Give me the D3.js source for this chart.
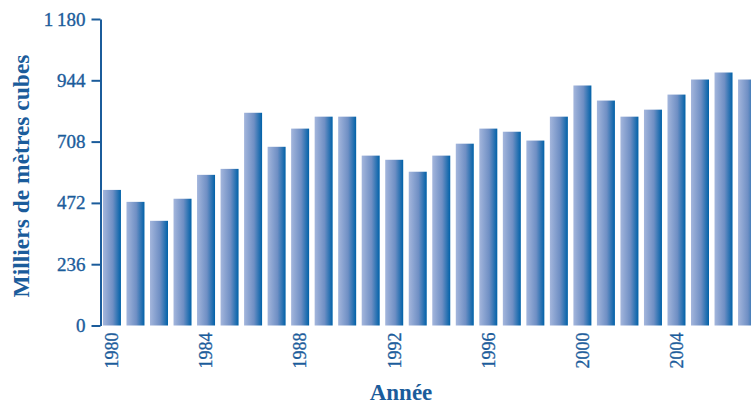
<!DOCTYPE html>
<html>
<head>
<meta charset="utf-8">
<script src="https://cdn.jsdelivr.net/npm/d3@7"></script>
<style>
  html, body { margin: 0; padding: 0; background: #fff; }
  svg { display: block; }
</style>
</head>
<body>
<svg id="chart" width="751" height="405"></svg>
<script>
// Annual volumes, thousands of cubic metres
const years = [1980, 1981, 1982, 1983, 1984, 1985, 1986, 1987, 1988, 1989,
               1990, 1991, 1992, 1993, 1994, 1995, 1996, 1997, 1998, 1999,
               2000, 2001, 2002, 2003, 2004, 2005, 2006, 2007];
const volumes = [522, 476, 403, 488, 580, 603, 819, 688, 758, 804,
                 804, 654, 638, 592, 654, 700, 758, 746, 712, 804,
                 924, 866, 804, 831, 889, 947, 974, 947];
const yTicks = [0, 236, 472, 708, 944, 1180];
const xTickYears = [1980, 1984, 1988, 1992, 1996, 2000, 2004];

const ink = "#1b5c9b";
const font = "'Liberation Serif', 'DejaVu Serif', serif";

const svg = d3.select("#chart");

// Horizontal gradient used on every bar
const grad = svg.append("defs").append("linearGradient")
  .attr("id", "barGrad").attr("x1", "0%").attr("x2", "100%")
  .attr("y1", "0%").attr("y2", "0%");
grad.append("stop").attr("offset", "0%").attr("stop-color", "#a4b6dc");
grad.append("stop").attr("offset", "55%").attr("stop-color", "#6f8fc4");
grad.append("stop").attr("offset", "100%").attr("stop-color", "#0061a8");

const x = d3.scaleBand()
  .domain(years)
  .range([100.6, 758.4])
  .paddingInner(0.235)
  .paddingOuter(0.1);

const y = d3.scaleLinear()
  .domain([0, 1180])
  .range([325.5, 19]);

// Bars
svg.append("g").selectAll("rect")
  .data(years)
  .join("rect")
  .attr("x", (d) => x(d))
  .attr("width", x.bandwidth())
  .attr("y", (d, i) => y(volumes[i]))
  .attr("height", (d, i) => y(0) - y(volumes[i]))
  .attr("fill", "url(#barGrad)");

// Y axis
const fmt = (v) => v >= 1000 ? d3.format(",")(v).replace(",", "\u2009") : String(v);
const yAxis = svg.append("g")
  .attr("transform", "translate(100.5,0)")
  .call(d3.axisLeft(y).tickValues(yTicks).tickSize(9).tickSizeOuter(0).tickPadding(6).tickFormat(fmt));
yAxis.select(".domain").attr("stroke", ink).attr("stroke-width", 2);
yAxis.selectAll(".tick line").attr("stroke", ink).attr("stroke-width", 2);
yAxis.selectAll(".tick text")
  .attr("fill", ink)
  .attr("stroke", ink)
  .attr("stroke-width", 0.35)
  .attr("font-family", font)
  .attr("font-size", 19);

// X axis labels (no axis line)
const xAxis = svg.append("g")
  .attr("transform", `translate(0,${y(0)})`)
  .call(d3.axisBottom(x).tickValues(xTickYears).tickSize(0).tickPadding(0));
xAxis.select(".domain").remove();
xAxis.selectAll(".tick text")
  .attr("fill", ink)
  .attr("stroke", ink)
  .attr("stroke-width", 0.3)
  .attr("font-family", font)
  .attr("font-size", 18)
  .attr("transform", "rotate(-90)")
  .attr("text-anchor", "end")
  .attr("x", -7)
  .attr("y", 0)
  .attr("dy", "0.35em");

// Axis titles
svg.append("text")
  .attr("transform", "translate(29,176) rotate(-90)")
  .attr("text-anchor", "middle")
  .attr("fill", ink)
  .attr("font-family", font)
  .attr("font-weight", "bold")
  .attr("font-size", 23.5)
  .text("Milliers de mètres cubes");

svg.append("text")
  .attr("x", 401)
  .attr("y", 400)
  .attr("text-anchor", "middle")
  .attr("fill", ink)
  .attr("font-family", font)
  .attr("font-weight", "bold")
  .attr("font-size", 23)
  .text("Année");
</script>
</body>
</html>
